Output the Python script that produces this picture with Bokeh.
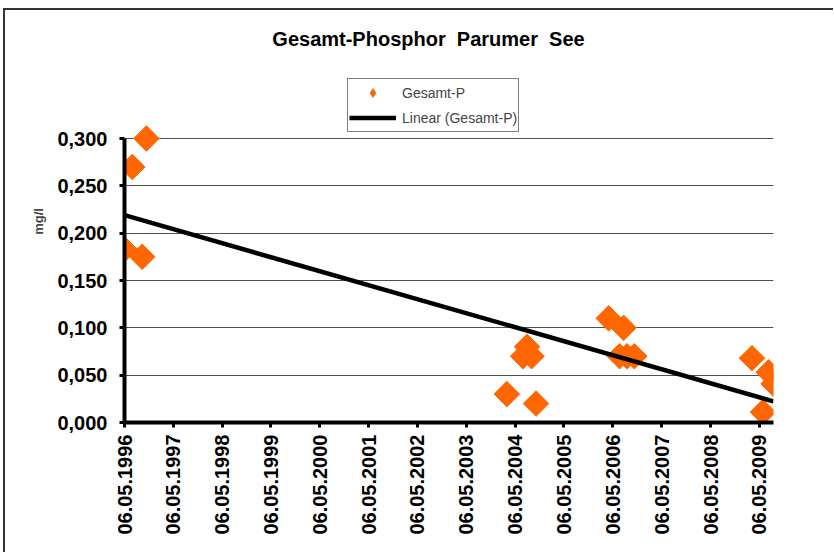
import numpy as np
import pandas as pd
from bokeh.plotting import figure
from bokeh.models import Range1d, FixedTicker, Legend, LegendItem, Label
from bokeh.embed import file_html
from bokeh.resources import INLINE

# ---------------- data ----------------
title_text = "Gesamt-Phosphor\u00a0 Parumer\u00a0 See"
y_axis_title = "mg/l"
series_name = "Gesamt-P"
trend_name = "Linear (Gesamt-P)"

sample_dates = [
    "1996-05-06", "1996-07-03", "1996-09-15", "1996-10-17",
    "2004-03-05", "2004-07-04", "2004-08-03", "2004-09-06", "2004-10-09",
    "2006-04-05", "2006-06-26", "2006-07-26", "2006-08-20", "2006-10-14",
    "2009-03-12", "2009-06-02", "2009-07-14", "2009-08-20",
]
gesamt_p = [
    0.183, 0.270, 0.175, 0.300,
    0.030, 0.070, 0.080, 0.070, 0.020,
    0.110, 0.070, 0.100, 0.070, 0.070,
    0.068, 0.011, 0.053, 0.041,
]
x_tick_labels = [
    "06.05.1996", "06.05.1997", "06.05.1998", "06.05.1999", "06.05.2000",
    "06.05.2001", "06.05.2002", "06.05.2003", "06.05.2004", "06.05.2005",
    "06.05.2006", "06.05.2007", "06.05.2008", "06.05.2009",
]
y_ticks = [0.0, 0.05, 0.1, 0.15, 0.2, 0.25, 0.3]
y_tick_labels = ["0,000", "0,050", "0,100", "0,150", "0,200", "0,250", "0,300"]

# ---------------- derived ----------------
epoch = pd.Timestamp("1970-01-01")
dates = pd.to_datetime(sample_dates)
x_ms = np.asarray((dates - epoch) / pd.Timedelta(milliseconds=1), dtype=float)
tick_dates = pd.to_datetime(x_tick_labels, format="%d.%m.%Y")
tick_ms = [float(v) for v in (tick_dates - epoch) / pd.Timedelta(milliseconds=1)]
y = np.asarray(gesamt_p, dtype=float)

# linear trend (least squares), drawn over the data range
x_days = (x_ms - x_ms.min()) / 86400000.0
slope, intercept = np.polyfit(x_days, y, 1)
trend_x = [x_ms.min(), x_ms.max()]
trend_y = [intercept, intercept + slope * x_days.max()]

FONT = "Liberation Sans"
ORANGE = "#FF6600"

# layout: the frame also covers the title/legend area above the value axis
FRAME_W = 649
AXIS_H = 284          # pixel height of the 0 .. 0.3 value span
FRAME_H = 402         # frame height including area for title and legend
y_top = y_ticks[-1] * FRAME_H / AXIS_H

p = figure(
    x_range=Range1d(x_ms.min(), x_ms.max()),
    y_range=Range1d(y_ticks[0], y_top),
    frame_width=FRAME_W, frame_height=FRAME_H,
    min_border_left=119, min_border_right=60,
    min_border_top=10, min_border_bottom=130,
    output_backend="svg", toolbar_location=None,
    background_fill_color="white", border_fill_color="white",
)
p.styles = {"margin-left": "3px", "margin-top": "8px",
            "border-left": "2px solid #333333", "border-top": "2px solid #333333"}
p.outline_line_color = None

# grid
p.xgrid.visible = False
p.ygrid.ticker = FixedTicker(ticks=y_ticks)
p.ygrid.grid_line_color = "#505050"
p.ygrid.grid_line_width = 1

# axes
for ax in (p.xaxis[0], p.yaxis[0]):
    ax.axis_line_width = 4
    ax.axis_line_color = "black"
    ax.major_tick_in = 0
    ax.major_tick_out = 5
    ax.major_tick_line_width = 3
    ax.major_tick_line_color = "black"
    ax.minor_tick_out = 0
    ax.minor_tick_in = 0
    ax.major_label_text_font = FONT
    ax.major_label_text_font_size = "20px"
    ax.major_label_text_font_style = "bold"
    ax.major_label_text_color = "black"

p.xaxis.ticker = FixedTicker(ticks=tick_ms)
p.xaxis.major_label_overrides = {t: lab for t, lab in zip(tick_ms, x_tick_labels)}
p.xaxis.major_label_orientation = np.pi / 2
p.xaxis.major_label_standoff = 7

p.yaxis.ticker = FixedTicker(ticks=y_ticks)
p.yaxis.bounds = (y_ticks[0], y_ticks[-1])
p.yaxis.major_label_overrides = {t: lab for t, lab in zip(y_ticks, y_tick_labels)}
p.yaxis.major_label_standoff = 12
p.yaxis.axis_label = y_axis_title
p.yaxis.axis_label_text_font = FONT
p.yaxis.axis_label_text_font_size = "13px"
p.yaxis.axis_label_text_font_style = "bold"
p.yaxis.axis_label_standoff = 8

# glyphs
sc = p.scatter(x_ms, y, marker="square", angle=np.pi / 4, size=18,
               fill_color=ORANGE, line_color=ORANGE)
ln = p.line(trend_x, trend_y, line_width=4.5, line_color="black")
# legend swatch: same series drawn with zero size; Excel's legend shows a slim diamond
legend_swatch = p.scatter(x_ms, y, marker="diamond", size=0,
                          fill_color=ORANGE, line_color=ORANGE, line_width=0)

legend = Legend(
    items=[LegendItem(label=series_name, renderers=[legend_swatch]),
           LegendItem(label=trend_name, renderers=[ln])],
    location=(223, 290),
    border_line_color="black", border_line_width=1,
    background_fill_color="white", background_fill_alpha=1,
    label_text_font=FONT, label_text_font_size="14px",
    glyph_width=47, glyph_height=25, label_height=25,
    spacing=0, padding=1, label_standoff=6, margin=0,
)
p.add_layout(legend)

title = Label(x=304, y=384, x_units="screen", y_units="screen",
              text=title_text, text_font=FONT, text_font_size="20px",
              text_font_style="bold", text_align="center",
              text_baseline="middle", text_color="black")
p.add_layout(title)

open("out.html", "w").write(file_html(p, INLINE))
